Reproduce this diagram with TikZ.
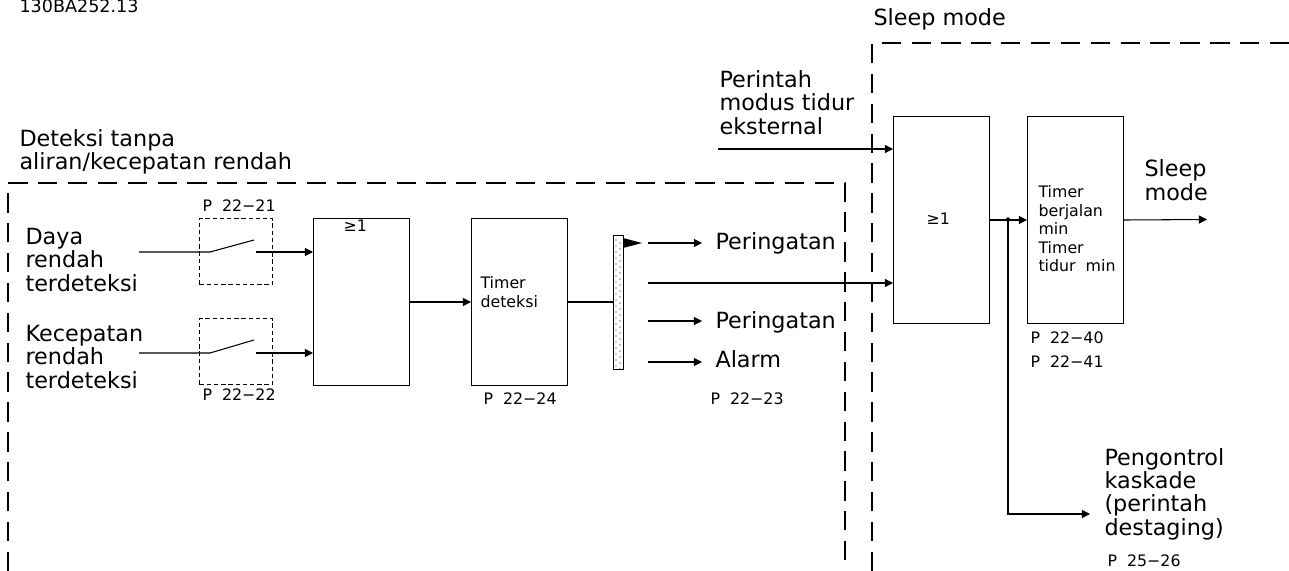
\documentclass[tikz,border=0pt]{standalone}
\usepackage{fontspec}
\setmainfont{DejaVu Sans}
\usetikzlibrary{positioning,arrows.meta}

\begin{document}
\begin{tikzpicture}[x=0.02cm, y=-0.02cm, line width=0.6pt,
  block/.style={rectangle, draw, anchor=north west, inner sep=0pt, minimum width=1.92cm, minimum height=4.14cm},
  switchbox/.style={rectangle, draw, dash pattern=on 2.5pt off 1.6pt, anchor=north west, inner sep=0pt, minimum width=1.46cm, minimum height=1.32cm},
  region/.style={dash pattern=on 11pt off 6pt},
  lbl/.style={anchor=base west, inner sep=0pt, align=left, font=\fontsize{12.7}{13.1}\selectfont},
  small/.style={anchor=base west, inner sep=0pt, align=left, font=\fontsize{9}{10.6}\selectfont},
  >={Triangle[length=4.6pt,width=4.6pt]}
]
  \useasboundingbox (0,0) rectangle (1289,571);

  % frames
  \draw[region] (8,571) -- (8,183) -- (845,183) -- (845,571);
  \draw[region] (872,571) -- (872,43) -- (1289,43);

  % labels (base = last line)
  \node[small, font=\fontsize{10}{12}\selectfont] (code) at (19,13) {130BA252.13};
  \node[lbl] (sleeptitle) at (873,26) {Sleep mode};
  \node[lbl] (flowtitle) at (19,170) {Deteksi tanpa\\aliran/kecepatan rendah};

  % inputs
  \node[lbl] (power) at (25,291) {Daya\\rendah\\terdeteksi};
  \node[lbl] (speed) at (25,388) {Kecepatan\\rendah\\terdeteksi};

  \node[switchbox] (swA) at (199,218) {};
  \node[switchbox] (swB) at (199,318) {};
  \node[small] (pswA) at (202,212) {P\ \ 22−21};
  \node[small] (pswB) at (202,400) {P\ \ 22−22};

  \node[block, minimum height=3.34cm] (orA) at (313,218) {};
  \node[small] (orAtxt) at (343,232) {≥1};
  \node[block, minimum height=3.34cm] (tmrA) at (471,218) {};
  \node[small] (tmrAtxt) at (480,307) {Timer\\deteksi};
  \node[small] (ptmrA) at (483,404) {P\ \ 22−24};

  \node[rectangle, draw, anchor=north west, inner sep=0pt, minimum width=0.2cm, minimum height=2.68cm] (bar) at (613,235) {};
  \foreach \i in {0,...,21} {
    \fill (616,240+\i*6) circle (0.3pt);
    \fill (620,243+\i*6) circle (0.3pt);
  }
  \fill (623,238) -- (642,243) -- (623,248) -- cycle;

  % outputs
  \coordinate (o1) at (648,243);
  \coordinate (e1) at (702,243);
  \coordinate (o2) at (648,321);
  \coordinate (e2) at (702,321);
  \coordinate (o3) at (648,362);
  \coordinate (e3) at (702,362);
  \coordinate (o4) at (648,283);
  \node[lbl] (warn1) at (715,250) {Peringatan};
  \node[lbl] (warn2) at (715,328) {Peringatan};
  \node[lbl] (alarm) at (715,367) {Alarm};
  \node[small] (palarm) at (710,404) {P\ \ 22−23};

  % sleep mode
  \node[lbl] (extcmd) at (719,134) {Perintah\\modus tidur\\eksternal};
  \coordinate (ext) at (718,149);
  \node[block] (orB) at (893,116) {};
  \node[small] (orBtxt) at (926,224) {≥1};
  \node[block] (tmrB) at (1027,116) {};
  \node[small] (tmrBtxt) at (1038,272) {Timer\\berjalan\\min\\Timer\\tidur\ \ min};
  \node[small] (ptmrB) at (1030,367) {P\ \ 22−40\\[2.8pt]P\ \ 22−41};
  \node[lbl] (sleepout) at (1144,200) {Sleep\\mode};
  \coordinate (sleepend) at (1207,219.5);
  \node[lbl] (cascade) at (1104,535) {Pengontrol\\kaskade\\(perintah\\destaging)};
  \node[small] (pcascade) at (1107,566) {P\ \ 25−26};
  \coordinate (jn) at (1008,219.5);
  \coordinate (casend) at (1090,514);

  % connectors
  \coordinate (dA) at (139,252);
  \coordinate (pA) at (210,252);
  \coordinate (qA) at (254,240);
  \coordinate (rA) at (256,252);
  \coordinate (dB) at (139,353);
  \coordinate (pB) at (210,353);
  \coordinate (qB) at (254,340);
  \coordinate (rB) at (256,353);
  \draw (dA) -- (pA) -- (qA);
  \draw[->] (rA) -- (rA -| orA.west);
  \draw (dB) -- (pB) -- (qB);
  \draw[->] (rB) -- (rB -| orA.west);

  \draw[->] (orA.east) -- (tmrA.west);
  \draw (tmrA.east) -- (tmrA.east -| bar.west);
  \draw[->] (o1) -- (e1);
  \draw[->] (o2) -- (e2);
  \draw[->] (o3) -- (e3);
  \draw[->] (o4) -- (o4 -| orB.west);
  \draw[->] (ext) -- (ext -| orB.west);
  \draw[->] (orB.east) -- (tmrB.west);
  \fill (jn) circle (1.2pt);
  \draw[->] (jn) |- (casend);
  \draw[->] (tmrB.east) -- (sleepend);
\end{tikzpicture}
\end{document}
